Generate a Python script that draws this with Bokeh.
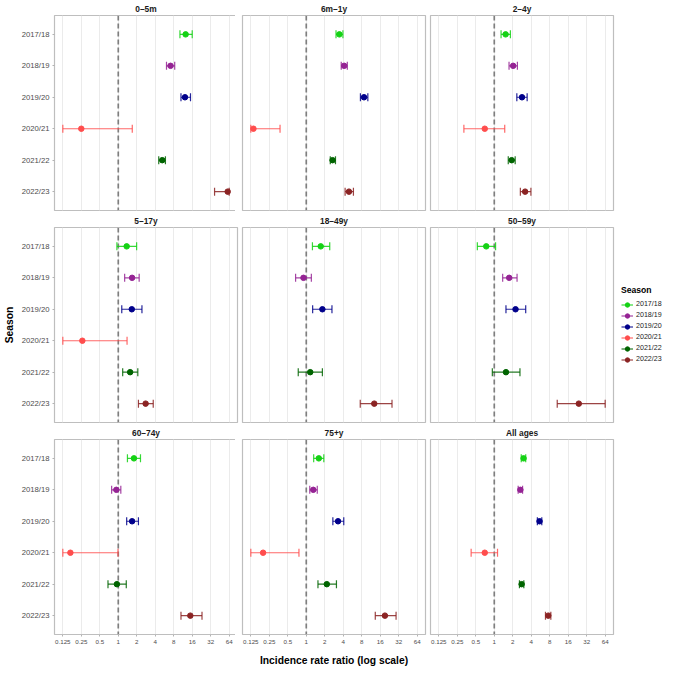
import numpy as np
from bokeh.plotting import figure
from bokeh.models import (Range1d, FixedTicker, CustomJSTickFormatter, Span, Legend,
                          LegendItem, ColumnDataSource, Grid, LinearAxis, LogAxis)
from bokeh.layouts import gridplot
from bokeh.embed import file_html
from bokeh.resources import INLINE

NaN = float("nan")

seasons = ["2017/18", "2018/19", "2019/20", "2020/21", "2021/22", "2022/23"]
season_colors = ["#14D214", "#952394", "#00008B", "#FF4D4D", "#006400", "#8B2323"]
age_groups = ["0–5m", "6m–1y", "2–4y", "5–17y", "18–49y", "50–59y", "60–74y", "75+y", "All ages"]
x_ticks = [0.125, 0.25, 0.5, 1, 2, 4, 8, 16, 32, 64]

# incidence rate ratios (point estimate, lower CI, upper CI), one value per season
irr_0_5m = [12.5, 7.1, 12.2, 0.25, 5.2, 60.5]
lo_0_5m = [10.1, 6.1, 10.5, 0.125, 4.56, 37.0]
hi_0_5m = [16.0, 8.3, 15.0, 1.69, 5.86, 64.0]

irr_6m_1y = [3.46, 4.14, 8.72, 0.138, 2.68, 4.96]
lo_6m_1y = [3.05, 3.71, 7.62, 0.125, 2.46, 4.29]
hi_6m_1y = [3.95, 4.66, 10.06, 0.374, 2.99, 5.86]

irr_2_4y = [1.53, 2.03, 2.83, 0.70, 1.92, 3.18]
lo_2_4y = [1.29, 1.74, 2.33, 0.32, 1.69, 2.66]
hi_2_4y = [1.83, 2.38, 3.43, 1.48, 2.19, 3.95]

irr_5_17y = [1.37, 1.68, 1.66, 0.26, 1.56, 2.79]
lo_5_17y = [0.95, 1.27, 1.14, 0.125, 1.18, 2.13]
hi_5_17y = [1.99, 2.19, 2.43, 1.39, 2.08, 3.71]

irr_18_49y = [1.72, 0.90, 1.83, NaN, 1.16, 12.8]
lo_18_49y = [1.26, 0.67, 1.27, NaN, 0.74, 7.57]
hi_18_49y = [2.41, 1.21, 2.62, NaN, 1.83, 24.9]

irr_50_59y = [0.74, 1.75, 2.22, NaN, 1.55, 23.8]
lo_50_59y = [0.53, 1.37, 1.55, NaN, 0.93, 10.6]
hi_50_59y = [1.05, 2.35, 3.25, NaN, 2.62, 64.0]

irr_60_74y = [1.80, 0.93, 1.68, 0.166, 0.95, 14.9]
lo_60_74y = [1.41, 0.78, 1.37, 0.125, 0.68, 10.5]
hi_60_74y = [2.30, 1.10, 2.13, 0.99, 1.35, 23.1]

irr_75y = [1.60, 1.30, 3.29, 0.198, 2.16, 19.1]
lo_75y = [1.32, 1.14, 2.71, 0.125, 1.55, 13.3]
hi_75y = [1.93, 1.51, 4.08, 0.76, 3.10, 29.0]

irr_all = [3.0, 2.66, 5.46, 0.70, 2.79, 7.57]
lo_all = [2.75, 2.45, 5.03, 0.42, 2.57, 6.82]
hi_all = [3.25, 2.89, 5.94, 1.13, 3.03, 8.34]

panels = [
    (age_groups[0], irr_0_5m, lo_0_5m, hi_0_5m),
    (age_groups[1], irr_6m_1y, lo_6m_1y, hi_6m_1y),
    (age_groups[2], irr_2_4y, lo_2_4y, hi_2_4y),
    (age_groups[3], irr_5_17y, lo_5_17y, hi_5_17y),
    (age_groups[4], irr_18_49y, lo_18_49y, hi_18_49y),
    (age_groups[5], irr_50_59y, lo_50_59y, hi_50_59y),
    (age_groups[6], irr_60_74y, lo_60_74y, hi_60_74y),
    (age_groups[7], irr_75y, lo_75y, hi_75y),
    (age_groups[8], irr_all, lo_all, hi_all),
]

FONT = "Liberation Sans"
FW, FH = 183, 195
n = len(seasons)
y_of = {s: n - i for i, s in enumerate(seasons)}

figs = []
for k, (name, irr, lo, hi) in enumerate(panels):
    r, c = divmod(k, 3)
    p = figure(x_axis_type="log", x_axis_location=None, y_axis_location=None,
               x_range=Range1d(2 ** -3.45, 2 ** 6.45), y_range=Range1d(0.4, n + 0.6),
               frame_width=FW, frame_height=FH, output_backend="svg", toolbar_location=None,
               min_border_left=50 if c == 0 else 3, min_border_right=50 if c == 2 else 2,
               min_border_top=15, min_border_bottom=32 if r == 2 else 2,
               title=name)
    p.center = []
    p.background_fill_color = "white"
    p.border_fill_color = "white"
    p.outline_line_color = "#BEBEBE"
    p.outline_line_width = 1.2
    p.title.align = "center"
    p.title.text_font = FONT
    p.title.text_font_size = "8.4px"
    p.title.text_font_style = "bold"
    p.title.text_color = "#1A1A1A"
    p.title.standoff = 3

    p.add_layout(Grid(dimension=0, ticker=FixedTicker(ticks=x_ticks),
                      grid_line_color="#EBEBEB", grid_line_width=1))
    p.add_layout(Span(location=1, dimension="height", line_color="#7F7F7F",
                      line_dash="5 3", line_width=1.7, level="underlay"))

    if c == 0:
        ya = LinearAxis(ticker=FixedTicker(ticks=list(range(1, n + 1))),
                        major_label_overrides={y_of[s]: s for s in seasons})
        ya.axis_line_color = None
        ya.major_tick_line_color = "#B3B3B3"
        ya.major_tick_out = 2
        ya.major_tick_in = 0
        ya.minor_tick_line_color = None
        ya.major_label_text_font = FONT
        ya.major_label_text_font_size = "7.7px"
        ya.major_label_text_color = "#4D4D4D"
        ya.major_label_standoff = 3
        if r == 1:
            ya.axis_label = "Season"
            ya.axis_label_text_font = FONT
            ya.axis_label_text_font_size = "10.3px"
            ya.axis_label_text_font_style = "bold"
            ya.axis_label_text_color = "black"
            ya.axis_label_standoff = 4
        p.add_layout(ya, "left")

    if r == 2:
        xa = LogAxis(ticker=FixedTicker(ticks=x_ticks),
                     formatter=CustomJSTickFormatter(code="return String(tick);"))
        xa.axis_line_color = None
        xa.major_tick_line_color = "#B3B3B3"
        xa.major_tick_out = 2
        xa.major_tick_in = 0
        xa.minor_tick_line_color = None
        xa.major_label_text_font = FONT
        xa.major_label_text_font_size = "6.2px"
        xa.major_label_text_color = "#4D4D4D"
        xa.major_label_standoff = 3
        if c == 1:
            xa.axis_label = "Incidence rate ratio (log scale)"
            xa.axis_label_text_font = FONT
            xa.axis_label_text_font_size = "10.3px"
            xa.axis_label_text_font_style = "bold"
            xa.axis_label_text_color = "black"
            xa.axis_label_standoff = 8
        p.add_layout(xa, "below")

    items = []
    for i, s in enumerate(seasons):
        col = season_colors[i]
        # missing estimates stay as NaN: nothing is drawn, but the legend key still renders
        src = ColumnDataSource(dict(y=[y_of[s]], irr=[irr[i]], lo=[lo[i]], hi=[hi[i]]))
        seg = p.segment(x0="lo", y0="y", x1="hi", y1="y", source=src,
                        line_color=col, line_width=1.2, line_alpha=0.85)
        p.scatter(x="lo", y="y", source=src, marker="dash", angle=np.pi / 2, size=8,
                  line_color=col, line_width=1.2, line_alpha=0.85)
        p.scatter(x="hi", y="y", source=src, marker="dash", angle=np.pi / 2, size=8,
                  line_color=col, line_width=1.2, line_alpha=0.85)
        pt = p.scatter(x="irr", y="y", source=src, marker="circle", size=5.5,
                       fill_color=col, line_color=col)
        items.append(LegendItem(label=s, renderers=[seg, pt]))

    if k == 5:
        leg = Legend(items=items, title="Season", location="center_left")
        leg.title_text_font = FONT
        leg.title_text_font_size = "8.6px"
        leg.title_text_font_style = "bold"
        leg.title_text_color = "black"
        leg.title_standoff = 4
        leg.label_text_font = FONT
        leg.label_text_font_size = "7.1px"
        leg.label_text_color = "#1A1A1A"
        leg.label_standoff = 3
        leg.label_height = 11
        leg.glyph_width = 12
        leg.glyph_height = 11
        leg.spacing = 0
        leg.padding = 0
        leg.margin = 8
        leg.border_line_color = None
        leg.background_fill_alpha = 0
        p.add_layout(leg, "right")

    figs.append(p)

grid = gridplot([figs[0:3], figs[3:6], figs[6:9]], toolbar_location=None)

open("out.html", "w").write(file_html(grid, INLINE))
